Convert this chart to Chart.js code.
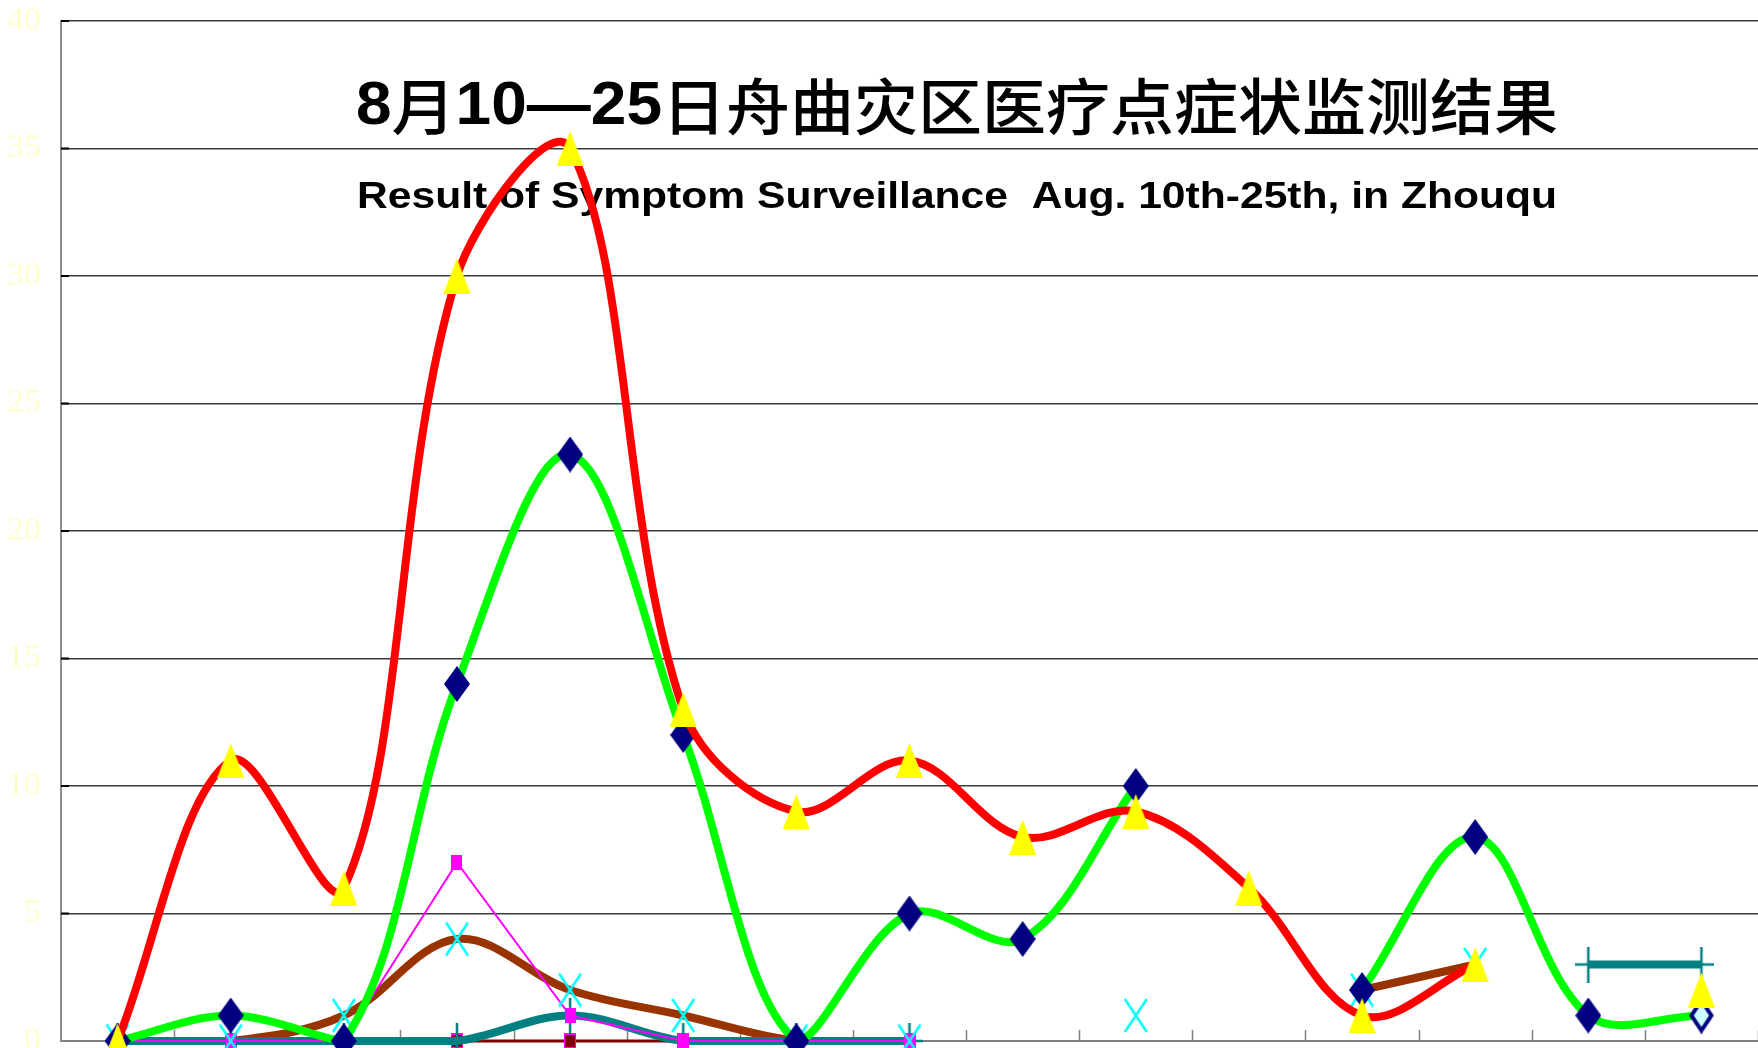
<!DOCTYPE html>
<html>
<head>
<meta charset="utf-8">
<title>舟曲症状监测</title>
<script src="https://cdn.jsdelivr.net/npm/chart.js@4.4.0/dist/chart.umd.min.js"></script>
<style>
html,body{margin:0;padding:0;background:#fff;overflow:hidden;}
#wrap{position:relative;width:1758px;height:1048px;}
</style>
</head>
<body>
<div id="wrap"><canvas id="grafico"></canvas></div>
<script>
// datos (15 dias visibles)
var dias = ["8月10日","8月11日","8月12日","8月13日","8月14日","8月15日","8月16日","8月17日",
            "8月18日","8月19日","8月20日","8月21日","8月22日","8月23日","8月24日"];
var tituloCN = "8月10—25日舟曲灾区医疗点症状监测结果";
var tituloEN = "Result of Symptom Surveillance  Aug. 10th-25th, in Zhouqu";
var yMin = 0, yMax = 40, yPaso = 5;

var serieRoja    = [0, 11, 6, 30, 35, 13, 9, 11, 8, 9, 6, 1, 3, null, 2];
var serieVerde   = [0, 1, 0, 14, 23, 12, 0, 5, 4, 10, null, 2, 8, 1, 1];
var serieRosa    = [0, 0, 0, 7, 1, 0, 0, 0, null, null, null, null, null, null, null];
var serieCafe    = [0, 0, 1, 4, 2, 1, 0, 0, null, null, null, 2, 3, null, null];
var serieCruz    = [0, 0, 1, 4, 2, 1, 0, 0, null, 1, null, 2, 3, null, null];
var serieTeal    = [0, 0, 0, 0, 1, 0, 0, 0, null, null, null, null, null, 3, 3];
var serieGranate = [0, 0, 0, 0, 0, 0, 0, 0, null, null, null, null, null, null, null];

var suavizado = 0.35;

// marcadores dibujados a mano (como en Excel, un poco estirados)
function marcador(w, h, dibujo){
  var c = document.createElement('canvas');
  c.width = w; c.height = h;
  dibujo(c.getContext('2d'), w, h);
  return c;
}
var mDiamante = marcador(26, 36, function(g,w,h){
  g.fillStyle = '#000080';
  g.beginPath(); g.moveTo(w/2,0); g.lineTo(w,h/2); g.lineTo(w/2,h); g.lineTo(0,h/2); g.closePath(); g.fill();
});
var mDiamanteHueco = marcador(26, 36, function(g,w,h){
  g.fillStyle = '#CCFFFF'; g.strokeStyle = '#000080'; g.lineWidth = 4;
  g.beginPath(); g.moveTo(w/2,3); g.lineTo(w-3,h/2); g.lineTo(w/2,h-3); g.lineTo(3,h/2); g.closePath(); g.fill(); g.stroke();
});
var mTriangulo = marcador(27, 35, function(g,w,h){
  g.fillStyle = '#FFFF00';
  g.beginPath(); g.moveTo(w/2,0); g.lineTo(w,h); g.lineTo(0,h); g.closePath(); g.fill();
});
var mEquis = marcador(26, 35, function(g,w,h){
  g.strokeStyle = '#00FFFF'; g.lineWidth = 2.5;
  g.beginPath(); g.moveTo(2,1); g.lineTo(w-2,h-1); g.moveTo(w-2,1); g.lineTo(2,h-1); g.stroke();
});
var mMas = marcador(26, 36, function(g,w,h){
  g.strokeStyle = '#008080'; g.lineWidth = 2.5;
  g.beginPath(); g.moveTo(w/2,0); g.lineTo(w/2,h); g.moveTo(0,h/2); g.lineTo(w,h/2); g.stroke();
});
var mCuadro = marcador(11, 15, function(g,w,h){
  g.fillStyle = '#FF00FF'; g.fillRect(0,0,w,h);
});
var mGranate = marcador(12, 16, function(g,w,h){
  g.fillStyle = '#FF00FF'; g.fillRect(0,0,w,h);
  g.fillStyle = '#800000'; g.fillRect(1,2,w-2,h-4);
});

var estilosVerde = serieVerde.map(function(v,i){ return i == serieVerde.length-1 ? mDiamanteHueco : mDiamante; });

// titulo: cifras en negrita, chino en peso normal, todo estirado al ancho del original
var fuenteCifras = 'bold 61px "Liberation Sans", Arial, sans-serif';
var fuenteChino = '500 61px "Noto Sans CJK SC", sans-serif';
function trozosTitulo(txt){
  return txt.match(/[\x00-\x7F\u2014]+|[^\x00-\x7F\u2014]+/g).map(function(t){
    return { t: t, f: /[\x00-\x7F\u2014]/.test(t) ? fuenteCifras : fuenteChino };
  });
}
function tituloMixto(ctx, txt, cx, y, ancho){
  var trozos = trozosTitulo(txt), total = 0;
  trozos.forEach(function(p){ ctx.font = p.f; p.w = ctx.measureText(p.t).width; total += p.w; });
  ctx.save();
  ctx.translate(cx, y);
  ctx.scale(ancho / total, 1);
  ctx.textAlign = 'left';
  var x = -total / 2;
  trozos.forEach(function(p){ ctx.font = p.f; ctx.fillText(p.t, x, 0); x += p.w; });
  ctx.restore();
}
function textoAncho(ctx, txt, cx, y, ancho){
  var w = ctx.measureText(txt).width;
  ctx.save();
  ctx.translate(cx, y);
  ctx.scale(ancho / w, 1);
  ctx.fillText(txt, 0, 0);
  ctx.restore();
}

// titulo dentro del area del grafico, debajo de las lineas
var textoTitulo = {
  id: 'textoTitulo',
  beforeDatasetsDraw: function(chart){
    var ctx = chart.ctx;
    var a = chart.chartArea;
    var cx = a.left + (a.right - a.left) * 0.528;
    ctx.save();
    ctx.fillStyle = '#000';
    ctx.textBaseline = 'middle';
    tituloMixto(ctx, tituloCN, cx, a.top + 86, 1202);
    ctx.textAlign = 'center';
    ctx.textBaseline = 'alphabetic';
    ctx.font = 'bold 36px "Liberation Sans", Arial, sans-serif';
    textoAncho(ctx, tituloEN, cx, a.top + 187, 1200);
    ctx.restore();
  }
};

// marcas cortas hacia adentro en los ejes
var marcasEjes = {
  id: 'marcasEjes',
  beforeDatasetsDraw: function(chart){
    var ctx = chart.ctx, a = chart.chartArea;
    var xs = chart.scales.x, ys = chart.scales.y;
    var paso = xs.getPixelForValue(1) - xs.getPixelForValue(0);
    ctx.save();
    ctx.strokeStyle = '#808080'; ctx.lineWidth = 1.5;
    for (var i = 1; i <= dias.length; i++){
      var x = Math.round(xs.getPixelForValue(i) - paso/2) + 0.5;
      ctx.beginPath(); ctx.moveTo(x, a.bottom - 11); ctx.lineTo(x, a.bottom); ctx.stroke();
    }
    ctx.strokeStyle = '#000'; ctx.lineWidth = 2;
    for (var v = yMin + yPaso; v <= yMax; v += yPaso){
      var y = ys.getPixelForValue(v);
      ctx.beginPath(); ctx.moveTo(a.left, y); ctx.lineTo(a.left + 8, y); ctx.stroke();
    }
    ctx.restore();
  }
};

var miCanvas = document.getElementById("grafico");
miCanvas.width = 1758; miCanvas.height = 1048;

var chart = new Chart(miCanvas.getContext("2d"), {
  type: "line",
  data: {
    labels: dias,
    datasets: [
      { label: "a", data: serieRoja, borderColor: "#FF0000", borderWidth: 8, tension: suavizado,
        pointStyle: mTriangulo, clip: false },
      { label: "b", data: serieVerde, borderColor: "#00FF00", borderWidth: 8, tension: suavizado,
        pointStyle: estilosVerde, clip: false },
      { label: "c", data: serieCruz, showLine: false, pointStyle: mEquis, clip: false },
      { label: "d", data: serieRosa, borderColor: "#FF00FF", borderWidth: 2, tension: 0,
        pointStyle: mCuadro, clip: false },
      { label: "e", data: serieTeal, borderColor: "#008080", borderWidth: 8, tension: suavizado,
        pointStyle: mMas, clip: false },
      { label: "f", data: serieCafe, borderColor: "#993300", borderWidth: 8, tension: suavizado,
        pointStyle: false, pointRadius: 0, clip: false },
      { label: "g", data: serieGranate, borderColor: "#800000", borderWidth: 3, tension: 0,
        pointStyle: mGranate, clip: false }
    ]
  },
  options: {
    responsive: false,
    animation: false,
    events: [],
    layout: { autoPadding: false, padding: { top: 21, right: 0, bottom: 0, left: 0 } },
    plugins: { legend: { display: false }, tooltip: { enabled: false }, title: { display: false } },
    elements: { point: { radius: 12 }, line: { capBezierPoints: true } },
    scales: {
      x: {
        offset: true,
        ticks: { display: false },
        grid: { display: false },
        border: { display: true, color: "#7f7f7f", width: 2 },
        afterFit: function(s){ s.height = 7; s.paddingTop = 0; s.paddingBottom = 0; }
      },
      y: {
        min: yMin, max: yMax,
        ticks: { stepSize: yPaso, color: "#FFFFCC", padding: 20,
                 font: { family: '"Liberation Serif", "DejaVu Serif", serif', size: 34, lineHeight: 0.01 } },
        grid: { color: "#3a3a3a", lineWidth: 1.6, drawTicks: false },
        border: { display: true, color: "#8c8c8c", width: 2 },
        afterFit: function(s){ s.width = 61; s.paddingTop = 0; s.paddingBottom = 0; }
      }
    }
  },
  plugins: [textoTitulo, marcasEjes]
});
</script>
</body>
</html>
